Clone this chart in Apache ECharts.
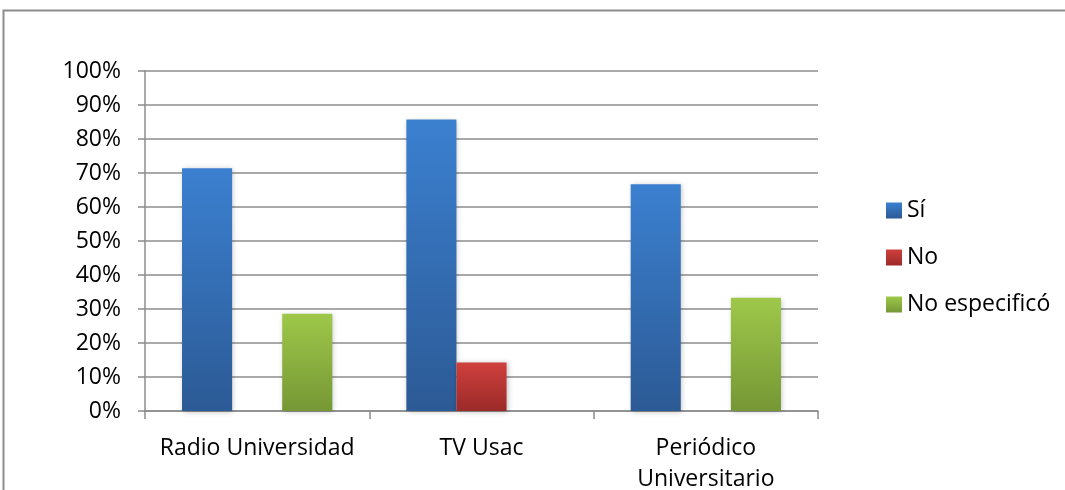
<!DOCTYPE html>
<html><head><meta charset="utf-8">
<script src="https://cdn.jsdelivr.net/npm/echarts@6/dist/echarts.min.js"></script>
<style>html,body{margin:0;padding:0;background:#fff}#c{width:1065px;height:490px}</style>
</head><body><div id="c"></div>
<script>
const categories = ['Radio Universidad', 'TV Usac', 'Periódico\nUniversitario'];
const seriesNames = ['Sí', 'No', 'No especificó'];
const si = [71.4, 85.7, 66.7];
const no = [0, 14.3, 0];
const noEsp = [28.6, 0, 33.3];
const yTicks = [0, 10, 20, 30, 40, 50, 60, 70, 80, 90, 100];

const FONT = 'Open Sans';
const FS = 23;
function grad(a, b) {
  return new echarts.graphic.LinearGradient(0, 0, 0, 1, [{offset: 0, color: a}, {offset: 1, color: b}]);
}
const colors = [grad('#3b80d0', '#2c5a95'), grad('#cf403d', '#9b2a29'), grad('#9ec84a', '#769735')];
const legendColors = [grad('#3b80d0', '#2c5a95'), grad('#cf403d', '#9b2a29'), grad('#9ec84a', '#769735')];
const vals = [si, no, noEsp];

const chart = echarts.init(document.getElementById('c'));
chart.setOption({
  animation: false,
  graphic: [{type: 'rect', shape: {x: 3.5, y: 10.5, width: 1080, height: 500}, style: {fill: 'none', stroke: '#8c8c8c', lineWidth: 2}, z: -1}],
  grid: {left: 145, right: 247, top: 71, bottom: 79, containLabel: false, outerBoundsMode: 'none'},
  legend: {
    orient: 'vertical', left: 881, top: 194, itemWidth: 16, itemHeight: 16, itemGap: 24, icon: 'rect',
    textStyle: {fontFamily: FONT, fontSize: FS, color: '#000'},
    data: seriesNames.map((n, i) => ({name: n, itemStyle: {color: legendColors[i]}}))
  },
  xAxis: {
    type: 'category', data: categories,
    axisLine: {lineStyle: {color: '#8c8c8c', width: 1.5}},
    axisTick: {show: true, length: 8, lineStyle: {color: '#8c8c8c', width: 1.5}},
    axisLabel: {fontFamily: FONT, fontSize: FS, color: '#000', margin: 22, lineHeight: 31, interval: 0}
  },
  yAxis: {
    type: 'value', min: yTicks[0], max: yTicks[yTicks.length - 1], interval: 10,
    axisLine: {show: true, lineStyle: {color: '#8c8c8c', width: 1.5}},
    axisTick: {show: true, inside: false, length: 7, lineStyle: {color: '#8c8c8c', width: 1.5}},
    axisLabel: {fontFamily: FONT, fontSize: FS, color: '#000', margin: 24, formatter: v => v + '%'},
    splitLine: {lineStyle: {color: '#8c8c8c', width: 1.5}}
  },
  series: seriesNames.map((n, i) => ({
    name: n, type: 'bar', data: vals[i], barGap: 0, barCategoryGap: '33%',
    itemStyle: {color: colors[i], shadowColor: 'rgba(0,0,0,0.25)', shadowBlur: 5, shadowOffsetX: 1, shadowOffsetY: 1}
  }))
});
</script></body></html>
